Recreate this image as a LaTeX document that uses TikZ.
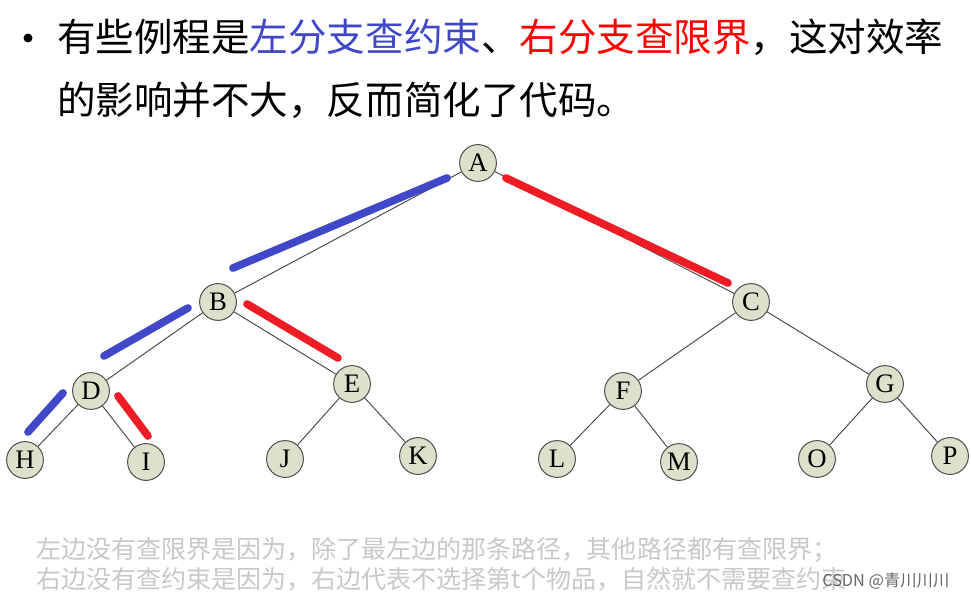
\documentclass[tikz,border=0pt]{standalone}
\usepackage{fontspec}
\setmainfont{Liberation Serif}
\newfontfamily\cjk{Noto Sans CJK SC}
\definecolor{nodefill}{HTML}{DEE0CC}
\definecolor{lbound}{HTML}{4048C8}
\definecolor{rbound}{HTML}{EE1C25}
\definecolor{notegray}{HTML}{C8C8C8}
\begin{document}
\begin{tikzpicture}[x=0.025cm, y=-0.025cm,
  vtx/.style={circle, draw=black!70, line width=0.7pt, fill=nodefill,
    minimum size=0.92cm, inner sep=0pt, font=\fontsize{19}{19}\selectfont},
  edge/.style={black!70, line width=0.7pt},
  lmark/.style={lbound, line width=5.5pt, line cap=round},
  rmark/.style={rbound, line width=5.5pt, line cap=round},
  note/.style={anchor=west, inner sep=0pt, notegray, font=\cjk\fontsize{17.8}{20}\selectfont}]
  \useasboundingbox (0,0) rectangle (971,602);

  % Heading
  \fill (28,38) circle (4.5);
  \node[anchor=west, inner sep=0pt, font=\cjk\fontsize{27.4}{30}\selectfont] (line1) at (57,37)
    {有些例程是\textcolor{lbound}{左分支查约束}、\textcolor{red}{右分支查限界}，这对效率};
  \node[anchor=west, inner sep=0pt, font=\cjk\fontsize{27.4}{30}\selectfont] (line2) at (57,100)
    {的影响并不大，反而简化了代码。};

  % Tree nodes
  \node[vtx] (A) at (478,163) {A};
  \node[vtx] (B) at (218,302) {B};
  \node[vtx] (C) at (751,302) {C};
  \node[vtx] (D) at (91,391) {D};
  \node[vtx] (E) at (352,384) {E};
  \node[vtx] (F) at (623,391) {F};
  \node[vtx] (G) at (885,384) {G};
  \node[vtx] (H) at (25,460) {H};
  \node[vtx] (I) at (146,462) {I};
  \node[vtx] (J) at (285,459) {J};
  \node[vtx] (K) at (418,456) {K};
  \node[vtx] (L) at (557,459) {L};
  \node[vtx] (M) at (679,462) {M};
  \node[vtx] (O) at (817,459) {O};
  \node[vtx] (P) at (950,456) {P};

  % Edges
  \draw[edge] (A) -- (B);
  \draw[edge] (A) -- (C);
  \draw[edge] (B) -- (D);
  \draw[edge] (B) -- (E);
  \draw[edge] (C) -- (F);
  \draw[edge] (C) -- (G);
  \draw[edge] (D) -- (H);
  \draw[edge] (D) -- (I);
  \draw[edge] (E) -- (J);
  \draw[edge] (E) -- (K);
  \draw[edge] (F) -- (L);
  \draw[edge] (F) -- (M);
  \draw[edge] (G) -- (O);
  \draw[edge] (G) -- (P);

  % Left branch: check constraint
  \draw[lmark] (233,268) -- (447,178);
  \draw[lmark] (104,356) -- (188,308);
  \draw[lmark] (28,432) -- (63,393);

  % Right branch: check bound
  \draw[rmark] (506,178) -- (728,283);
  \draw[rmark] (247,304) -- (338,358);
  \draw[rmark] (118,396) -- (148,436);

  % Notes
  \node[note] (note1) at (36,550) {左边没有查限界是因为，除了最左边的那条路径，其他路径都有查限界；};
  \node[note] (note2) at (36,579) {右边没有查约束是因为，右边代表不选择第t个物品，自然就不需要查约束};
  \node[anchor=west, inner sep=0pt, text=black!60, font=\cjk\fontsize{11.6}{12}\selectfont] (mark) at (822,581) {CSDN @青川川川};
\end{tikzpicture}
\end{document}
